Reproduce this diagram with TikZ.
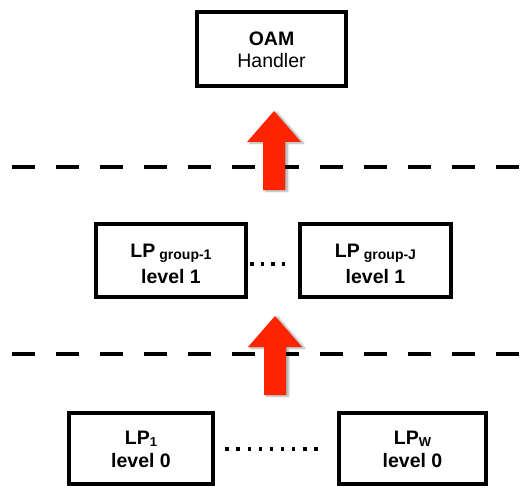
\documentclass[tikz,border=0pt]{standalone}
\usepackage{fontspec}
\setmainfont{Liberation Sans}
\usetikzlibrary{shadows.blur}

\definecolor{arrowred}{RGB}{255,36,0}

\tikzset{
  layerbox/.style={draw=black, line width=4pt, fill=white, inner sep=0pt,
    minimum height=73pt, align=center, text depth=0pt},
  boxfont/.style={font=\fontsize{19.5}{26}\selectfont\bfseries},
  layerline/.style={line width=4pt, dash pattern=on 23pt off 21pt},
  upflow/.style={fill=arrowred, draw=none,
    blur shadow={shadow xshift=2.5pt, shadow yshift=-1pt,
      shadow opacity=35, shadow blur steps=6, shadow blur radius=2pt}},
  ellipsis/.style={line width=3.5pt}
}

\newcommand{\grp}[1]{\hspace{4pt}{\fontsize{14}{14}\selectfont\raisebox{-2pt}{#1}}}
\newcommand{\lsub}[1]{{\fontsize{13}{13}\selectfont\raisebox{-1.5pt}{#1}}}

\begin{document}
\begin{tikzpicture}[x=1pt, y=-1pt]
  \useasboundingbox (0,0) rectangle (521,489);

  % layer separators
  \draw[layerline] (12,167) -- (521,167);
  \draw[layerline] (12,354) -- (521,354);

  % OAM handler on top
  \node[layerbox, minimum width=149pt, minimum height=74pt,
        font=\fontsize{19.5}{22.5}\selectfont, text height=38pt]
        (oam) at (271.5,49) {\textbf{OAM}\\Handler};

  % level 1 groups
  \node[layerbox, boxfont, minimum width=150pt, text height=45pt]
        (g1) at (171,260.5) {LP\grp{group-1}\\level 1};
  \node[layerbox, boxfont, minimum width=151pt, text height=45pt]
        (gJ) at (375.5,260.5) {LP\grp{group-J}\\level 1};

  % level 0 processes
  \node[layerbox, font=\fontsize{19.5}{22.5}\selectfont\bfseries,
        minimum width=144pt, minimum height=71pt, text height=37pt]
        (lp1) at (141,448.5) {LP\lsub{1}\\level 0};
  \node[layerbox, font=\fontsize{19.5}{22.5}\selectfont\bfseries,
        minimum width=147pt, minimum height=71pt, text height=37pt]
        (lpW) at (412.5,448.5) {LP\lsub{W}\\level 0};

  % ellipses between sibling boxes
  \draw[ellipsis, dash pattern=on 3.5pt off 7pt, shorten <=2.3pt, shorten >=6.2pt]
    ([yshift=-3.5pt]g1.east) -- ([yshift=-3.5pt]gJ.west);
  \draw[ellipsis, dash pattern=on 3.5pt off 7.6pt, shorten <=10.3pt, shorten >=12.2pt]
    ([yshift=-0.5pt]lp1.east) -- ([yshift=-0.5pt]lpW.west);

  % upward flow arrows
  \fill[upflow] (274,111) -- (301,142) -- (285,142) -- (285,190)
    -- (263,190) -- (263,142) -- (247,142) -- cycle;
  \fill[upflow] (275,316) -- (302,347) -- (286,347) -- (286,395)
    -- (264,395) -- (264,347) -- (248,347) -- cycle;
\end{tikzpicture}
\end{document}
